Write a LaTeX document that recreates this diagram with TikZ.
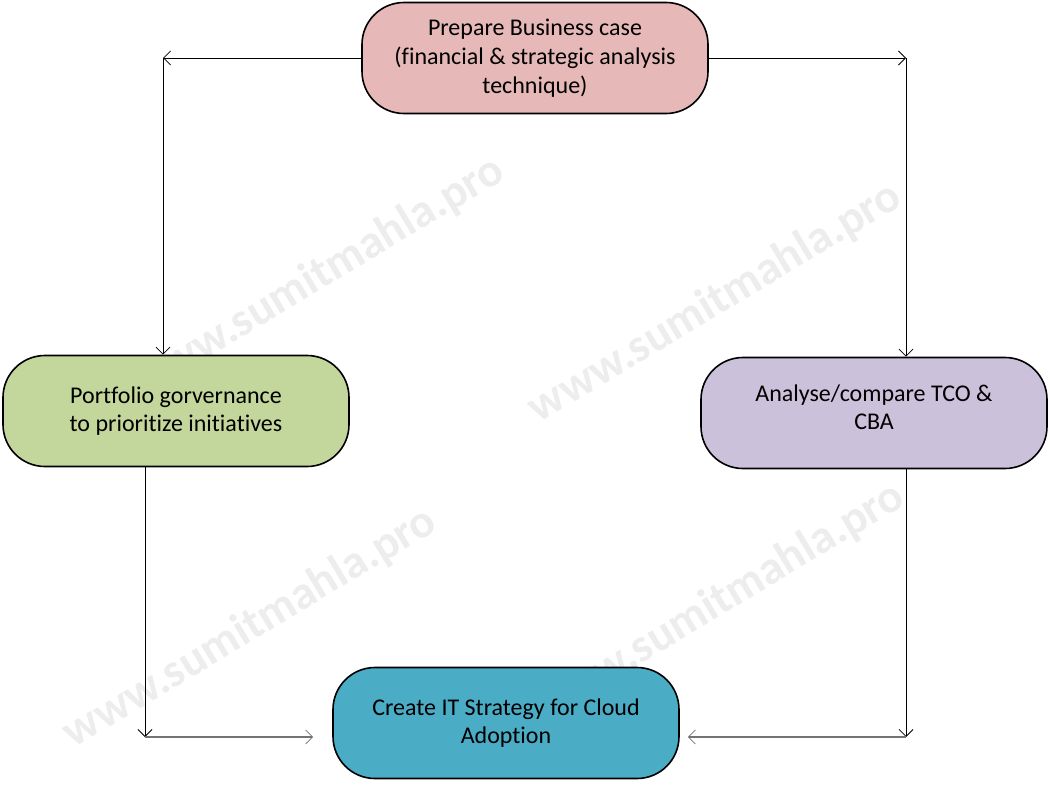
\documentclass[tikz,border=0pt]{standalone}
\usepackage{fontspec}
\setmainfont{Carlito}[Ligatures=NoCommon]
\usetikzlibrary{arrows.meta,positioning}

\definecolor{boxpink}{HTML}{E6B9B8}
\definecolor{boxgreen}{HTML}{C3D69B}
\definecolor{boxlilac}{HTML}{CCC1DA}
\definecolor{boxteal}{HTML}{4BACC6}

\begin{document}
\begin{tikzpicture}[
    x=1pt, y=-1pt,
    stepbox/.style={draw, line width=1.6pt, rounded corners=42pt, minimum width=346pt, minimum height=111pt, align=center, font=\fontsize{24}{28.8}\selectfont},
    arr/.style={-{Straight Barb[length=7pt, width=14pt, line width=0.8pt]}, line width=0.9pt},
    garr/.style={arr, draw=black!55, line width=1.8pt},
    wmark/.style={text=black!7, font=\fontsize{47}{47}\selectfont\bfseries, rotate=31}
]
\useasboundingbox (0,0) rectangle (1050,790);

% watermark
\node[wmark] (wm1) at (318,277) {www.sumitmahla.pro};
\node[wmark] (wm2) at (715,303) {www.sumitmahla.pro};
\node[wmark] (wm3) at (250,628) {www.sumitmahla.pro};
\node[wmark] (wm4) at (718,603) {www.sumitmahla.pro};

% boxes
\node[stepbox, fill=boxpink] (biz) at (535,58) {Prepare Business case\\(financial \& strategic analysis\\technique)};
\node[stepbox, fill=boxgreen] (port) at (176,411) {Portfolio gorvernance\\to prioritize initiatives};
\node[stepbox, fill=boxlilac] (tco) at (874,413) {Analyse/compare TCO \&\\CBA\\[-17pt]};
\node[stepbox, fill=boxteal] (strat) at (506,723) {Create IT Strategy for Cloud\\Adoption};

% elbow points
\coordinate (tl) at (163,58);
\coordinate (tr) at (906,58);
\coordinate (bl) at (145,737);
\coordinate (br) at (906,737);

\draw[arr] (biz.west) -- (tl);
\draw[arr] (tl) -- (tl |- port.north);
\draw[arr] (biz.east) -- (tr);
\draw[arr] (tr) -- (tr |- tco.north);
\draw[arr] (port.south -| bl) -- (bl);
\draw[garr] (bl) -- ([xshift=-19pt]strat.west |- bl);
\draw[arr] (tco.south -| br) -- (br);
\draw[garr] (br) -- ([xshift=8pt]strat.east |- br);
\end{tikzpicture}
\end{document}
